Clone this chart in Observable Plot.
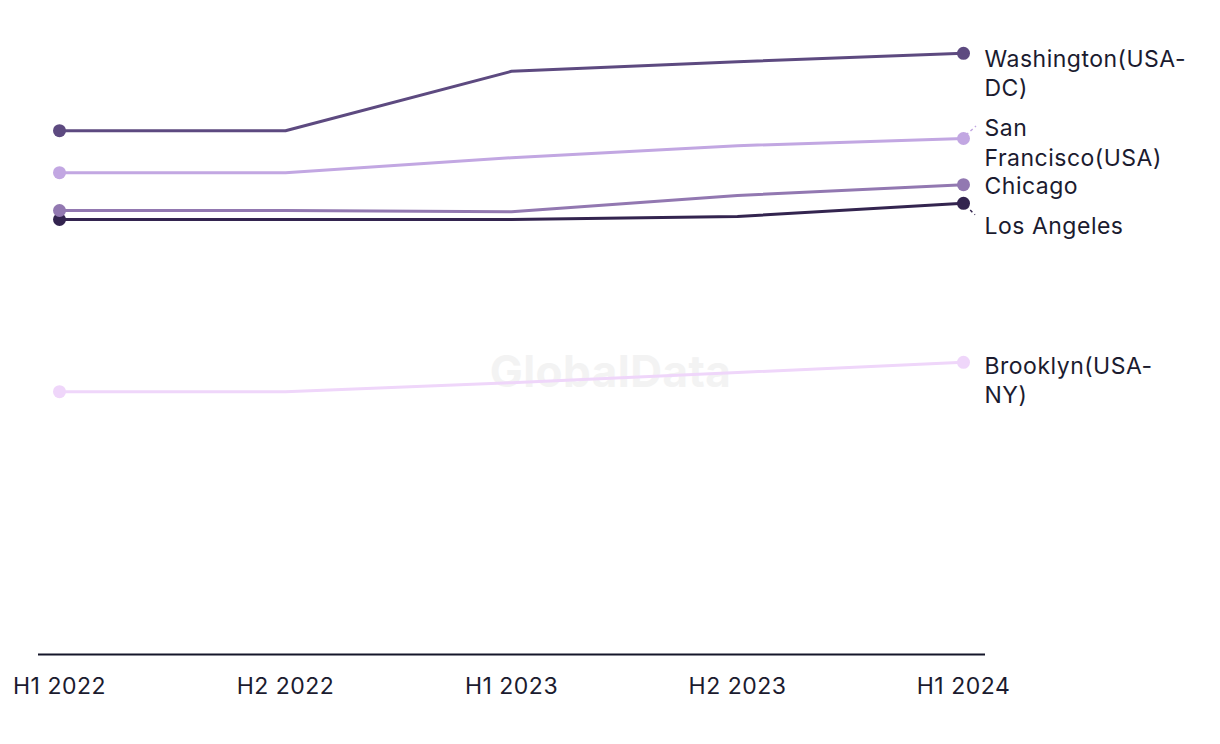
<!DOCTYPE html>
<html>
<head>
<meta charset="utf-8">
<script src="https://cdn.jsdelivr.net/npm/d3@7"></script>
<script src="https://cdn.jsdelivr.net/npm/@observablehq/plot@0.6"></script>
<style>
  html, body { margin: 0; padding: 0; background: #ffffff; }
  #chart { width: 1220px; height: 744px; }
</style>
</head>
<body>
<div id="chart"></div>
<script>
// ---- Data ----
const periods = ["H1 2022", "H2 2022", "H1 2023", "H2 2023", "H1 2024"];
const seriesNames = ["Brooklyn(USA-NY)", "Los Angeles", "Chicago", "San Francisco(USA)", "Washington(USA-DC)"];
const labelTexts = ["Brooklyn(USA-\nNY)", "Los Angeles", "Chicago", "San\nFrancisco(USA)", "Washington(USA-\nDC)"];
const brooklyn     = [43.8, 43.8, 45.3, 47.0, 48.7];
const losAngeles   = [72.5, 72.5, 72.5, 73.0, 75.2];
const chicago      = [74.0, 74.0, 73.8, 76.5, 78.3];
const sanFrancisco = [80.3, 80.3, 82.8, 84.8, 86.0];
const washington   = [87.3, 87.3, 97.2, 98.8, 100.2];
const seriesValues = [brooklyn, losAngeles, chicago, sanFrancisco, washington];

// ---- Styles ----
const colors = ["#efd6fa", "#33244f", "#9278b1", "#c2a7e2", "#5d4a80"];
const labelDy = [-10, 9, -12, -24, -8];   // label offsets (px) from the last point, top anchored
const leaders = {"San Francisco(USA)": [13, -12], "Los Angeles": [12, 12]};

const rows = [];
seriesNames.forEach((s, i) => {
  periods.forEach((p, j) => rows.push({series: s, period: p, value: seriesValues[i][j]}));
});
const lastRows = seriesNames.map((s, i) => ({series: s, label: labelTexts[i], period: periods[periods.length - 1], value: seriesValues[i][periods.length - 1], dy: labelDy[i]}));

const font = "Inter, 'Noto Sans', sans-serif";

const chart = Plot.plot({
  width: 1220,
  height: 744,
  marginLeft: 58,
  marginRight: 256,
  marginTop: 54,
  marginBottom: 90,
  style: {fontFamily: font, fontSize: "23px", color: "#1b1b2f", background: "#ffffff", letterSpacing: "0.5px"},
  x: {type: "point", domain: periods, padding: 0, label: null, tickSize: 0, tickPadding: 23},
  y: {domain: [0, 100], axis: null},
  color: {domain: seriesNames, range: colors},
  marks: [
    Plot.text(["GlobalData"], {frameAnchor: "middle", dx: 99, dy: 18, fill: "#f3f3f3", fontSize: 44, fontWeight: "bold"}),
    Plot.ruleY([0], {stroke: "#15162a", strokeWidth: 2, insetLeft: -20, insetRight: -21}),
    Plot.line(rows, {x: "period", y: "value", z: "series", stroke: "series", strokeWidth: 3}),
    Plot.dot(rows.filter(d => d.period === periods[0] || d.period === periods[periods.length - 1]), {x: "period", y: "value", fill: "series", r: 6.5}),
    ...lastRows.map(d => Plot.text([d], {x: "period", y: "value", text: "label", textAnchor: "start", lineAnchor: "top", dx: 21, dy: d.dy, lineHeight: 1.3, fill: "#1b1b2f", fontSize: 23}))
  ]
});

// leader lines for displaced labels, using the chart's scales
const sx = chart.scale("x"), sy = chart.scale("y");
const svg = d3.select(chart);
lastRows.forEach((d, i) => {
  const off = leaders[d.series];
  if (!off) return;
  const x0 = sx.apply(d.period), y0 = sy.apply(d.value);
  svg.append("line")
    .attr("x1", x0 + 3).attr("y1", y0 + Math.sign(off[1]) * 3)
    .attr("x2", x0 + off[0]).attr("y2", y0 + off[1])
    .attr("stroke", colors[i]).attr("stroke-width", 1.5).attr("stroke-dasharray", "3,3");
});

document.getElementById("chart").appendChild(chart);
</script>
</body>
</html>
